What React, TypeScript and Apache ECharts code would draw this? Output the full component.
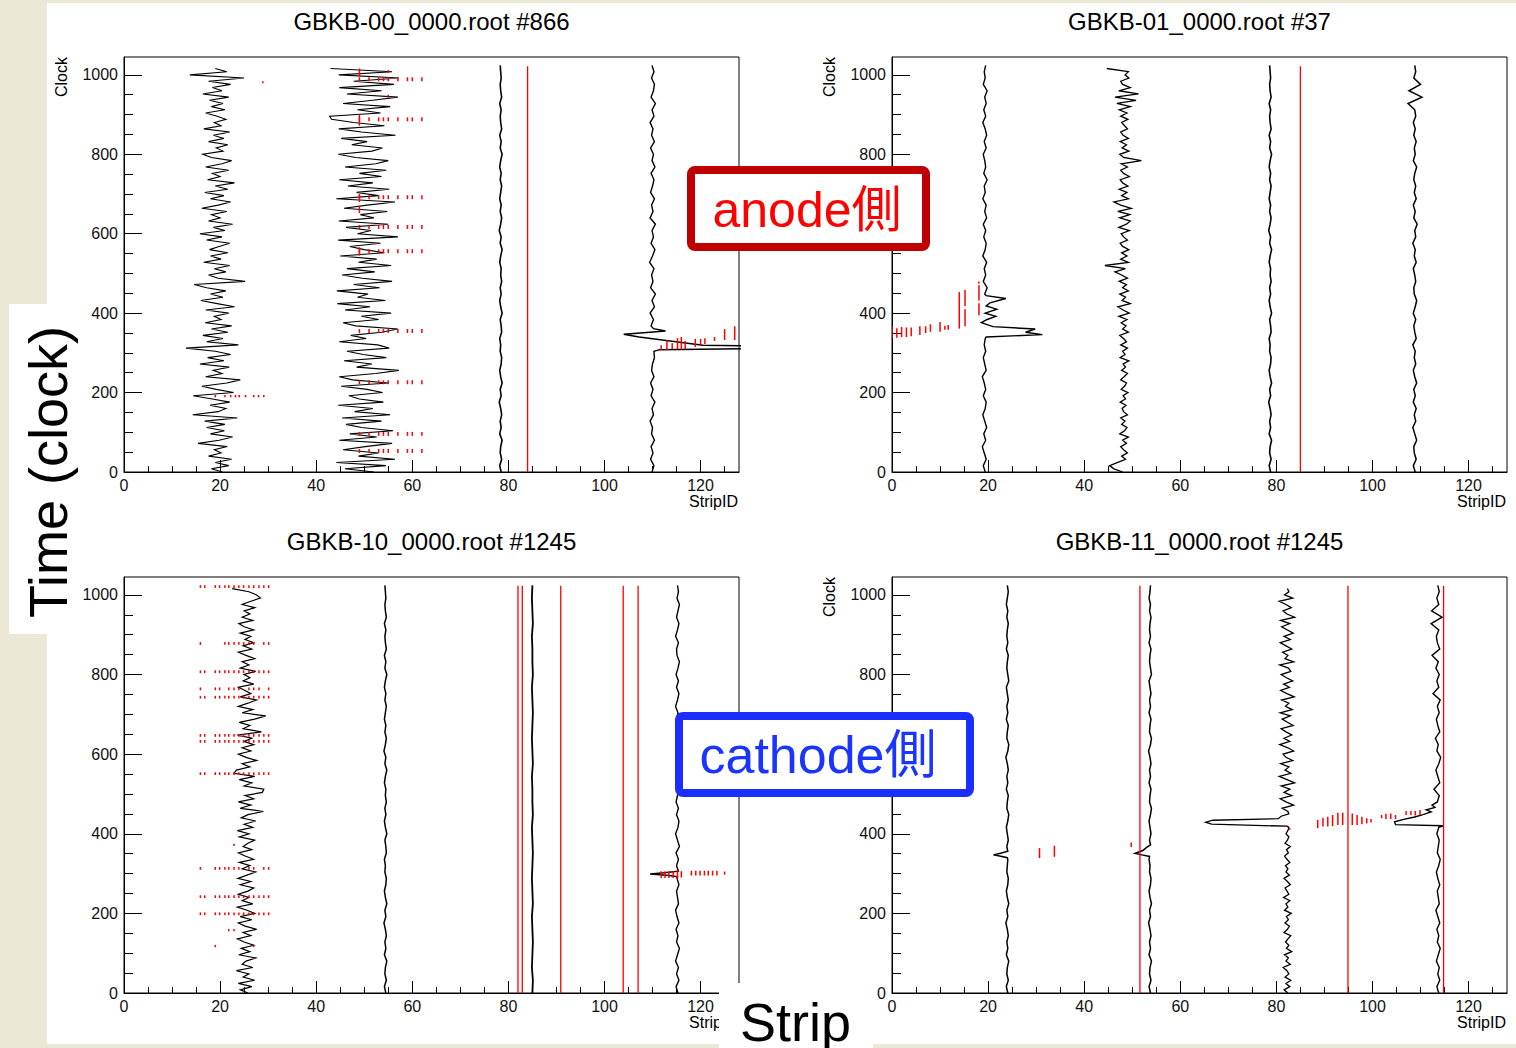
import { useEffect, useRef } from "react";
import * as echarts from "echarts";

// ---------- axes / labels ----------
const X_MAX = 128;
const Y_MAX = 1045;
const X_MAJOR = [0, 20, 40, 60, 80, 100, 120];
const X_MINOR = [5, 10, 15, 25, 30, 35, 45, 50, 55, 65, 70, 75, 85, 90, 95, 105, 110, 115, 125];
const Y_MAJOR = [0, 200, 400, 600, 800, 1000];
// the 600 label of the right-hand panels is hidden under the anode / cathode boxes
const Y_MAJOR_LABELS_RIGHT = [0, 200, 400, 800, 1000];
const Y_MINOR = [50, 100, 150, 250, 300, 350, 450, 500, 550, 650, 700, 750, 850, 900, 950];
const TITLES = [
  "GBKB-00_0000.root #866",
  "GBKB-01_0000.root #37",
  "GBKB-10_0000.root #1245",
  "GBKB-11_0000.root #1245",
];
const X_NAME = "StripID";
const Y_NAME = "Clock";
const BIG_Y = "Time (clock)";
const BIG_X = "Strip";
const ANODE = "anode側";
const CATHODE = "cathode側";

// ---------- GBKB-00 #866 (top left) ----------
const TL_A = [
  20.5, 18.2, 21.8, 19.0, 22.4, 17.6, 20.2, 18.8,
  21.5, 15.4, 19.8, 22.6, 18.0, 20.9, 17.2, 21.0,
  16.8, 23.6, 14.3, 19.6, 21.2, 17.9, 22.0, 18.4,
  14.4, 22.8, 19.2, 16.2, 21.4, 24.2, 17.0, 20.4,
  18.6, 21.9, 15.8, 20.8, 17.4, 22.2, 19.0, 12.9,
  23.8, 17.2, 20.6, 16.4, 21.6, 18.2, 22.4, 16.9,
  20.2, 18.8, 21.8, 17.0, 23.0, 19.4, 16.0, 20.6,
  18.0, 21.2, 17.2, 14.6, 25.2, 19.6, 17.6, 21.2,
  18.8, 22.0, 16.6, 20.2, 18.0, 21.6, 17.8, 19.8,
  22.0, 17.2, 20.4, 15.8, 21.0, 18.6, 22.6, 17.6,
  20.0, 18.2, 21.4, 16.2, 19.6, 22.2, 18.0, 20.8,
  16.8, 21.6, 19.0, 23.0, 17.4, 20.0, 18.4, 21.8,
  17.0, 20.4, 22.4, 18.2, 16.4, 20.6, 19.2, 21.6,
  17.6, 20.8, 18.6, 22.0, 16.6, 20.2, 18.8, 21.2,
  19.4, 17.0, 21.0, 18.2, 20.6, 17.8, 21.8, 16.4,
  20.4, 18.4, 22.2, 17.6, 25.0, 13.7, 21.4, 19.0,
];
const TL_B = [
  52.0, 46.0, 54.5, 44.2, 56.4, 48.8, 53.0, 45.6,
  50.2, 55.8, 44.8, 52.6, 47.0, 56.0, 49.4, 46.2,
  53.6, 45.4, 55.4, 48.0, 51.8, 44.6, 54.0, 49.0,
  46.8, 53.8, 50.6, 45.2, 55.0, 47.6, 44.8, 52.4,
  57.2, 48.4, 51.6, 45.8, 54.6, 49.8, 46.4, 55.2,
  52.8, 44.8, 50.4, 47.2, 53.6, 57.0, 48.2, 45.6,
  53.0, 49.4, 55.6, 46.0, 51.2, 44.4, 54.4, 48.6,
  50.8, 44.3, 53.2, 47.8, 55.8, 49.6, 45.4, 52.2,
  46.4, 55.6, 48.8, 52.6, 45.0, 54.2, 50.0, 47.0,
  53.4, 44.6, 57.0, 48.6, 51.4, 46.2, 55.0, 44.7,
  52.0, 49.2, 54.8, 45.8, 50.6, 56.4, 44.2, 53.0,
  48.4, 55.2, 46.6, 51.8, 44.8, 53.6, 49.0, 54.6,
  46.0, 52.4, 55.0, 48.2, 44.6, 51.6, 53.8, 47.4,
  50.6, 45.2, 56.5, 49.4, 44.7, 54.2, 47.8, 43.2,
  42.8, 53.4, 48.6, 55.4, 45.6, 51.8, 57.0, 46.4,
  53.6, 44.8, 56.2, 47.8, 57.2, 44.7, 55.8, 43.0,
];
const TL_C = [
  78.5, 78.2, 78.6, 78.3, 78.4, 78.7, 78.2, 78.5, 78.3, 78.6, 78.4, 78.1, 78.5, 78.3, 78.7, 78.4,
  78.2, 78.5, 78.6, 78.3, 78.4, 78.2, 78.6, 78.5, 78.3, 78.7, 78.4, 78.2, 78.5, 78.3, 78.6, 78.4,
  78.5, 78.2, 78.4, 78.7, 78.3, 78.5, 78.1, 78.4, 78.6, 78.3, 78.5, 78.2, 78.4, 78.6, 78.3, 78.5,
  78.2, 78.4, 78.7, 78.3, 78.5, 78.2, 78.6, 78.4, 78.3, 78.5, 78.2, 78.6, 78.4, 78.3, 78.5, 78.4, 78.3,
];
const TL_D_LOW = [
  109.9, 110.3, 109.6, 110.1, 109.7, 110.4, 109.8, 110.0, 109.5, 110.2,
  109.9, 110.5, 109.7, 110.1, 109.6, 110.3, 109.8, 110.0, 110.4, 110.3,
];
const TL_D_PULSE = [
  [111.5, 308], [140, 312], [140, 316], [120.5, 319], [107.2, 340],
  [104, 347], [107.5, 350], [112.7, 355], [110.2, 361],
];
const TL_D_HIGH = [
  109.7, 110.2, 109.5, 110.4, 109.9, 110.6, 109.6, 110.1, 109.8, 110.3,
  109.4, 110.0, 110.5, 109.7, 110.2, 109.9, 110.6, 109.5, 110.1, 109.8,
  110.4, 109.6, 110.0, 110.3, 109.7, 110.5, 109.9, 110.2, 109.6, 110.4,
  109.8, 110.1, 109.5, 110.3, 109.9, 110.6, 109.7, 110.2, 110.4, 109.8,
  110.3, 109.9,
];
const TL_HOT = [[84, 0, 1022]];
const TL_ROW_B_CLOCKS = [989, 888, 692, 617, 556, 355, 226, 96, 53];
const TL_ROW_B_STRIPS = [49, 51, 53, 54, 55, 57, 59, 60, 62];
const TL_ROW_A_CLOCKS = [191];
const TL_ROW_A_STRIPS = [19, 21, 22.2, 23.2, 24, 25.3, 27, 28, 29.1];
const TL_DASHES = [
  [49, 996, 1016], [55, 1005, 1012], [55, 943, 950], [49, 872, 900], [49, 652, 670],
  [49, 680, 700], [49, 545, 566], [28.9, 979, 984],
  [111.8, 307, 319], [113, 307, 332], [114.1, 309, 324], [115.2, 309, 337], [116, 309, 340],
  [116.8, 309, 330], [118.9, 315, 335], [120, 320, 335], [120.9, 322, 337], [122.9, 330, 340],
  [125, 332, 360], [127.1, 332, 367],
];

// ---------- GBKB-01 #37 (top right) ----------
const TR_1_LOW = [
  19.4, 19.0, 19.6, 19.2, 18.8, 19.5, 19.1, 19.7, 19.3, 18.9, 19.4,
  19.6, 19.0, 19.5, 19.2, 18.8, 19.6, 19.3, 19.0, 19.5, 19.2, 19.4,
];
const TR_1_PULSE = [
  [19.6, 340], [31.3, 346], [27.8, 352], [29.8, 360], [21.0, 366], [18.6, 376],
  [19.8, 384], [21.6, 392], [19.4, 400], [21.8, 410], [19.6, 418], [20.4, 426],
  [23.7, 437], [19.6, 444],
];
const TR_1_HIGH = [
  19.3, 19.8, 19.0, 19.5, 19.2, 19.7, 18.9, 19.4, 19.6, 19.1,
  19.5, 19.0, 19.7, 19.3, 19.6, 18.9, 19.4, 19.2, 19.8, 19.1,
  19.5, 19.3, 19.0, 19.6, 19.2, 19.7, 19.4, 18.9, 19.5, 19.1,
  19.6, 19.3, 19.8, 19.0, 19.4, 19.2, 19.5,
];
const TR_2 = [
  48.0, 46.2, 45.3, 47.0, 48.6, 47.8, 49.0, 48.2,
  47.6, 48.8, 48.0, 49.2, 47.4, 48.4, 48.9, 47.8,
  48.5, 47.6, 49.0, 48.2, 47.9, 48.7, 47.5, 48.6,
  48.1, 49.1, 47.7, 48.4, 48.8, 47.6, 48.3, 49.0,
  47.8, 48.6, 48.1, 49.3, 47.5, 48.5, 48.0, 49.0,
  47.6, 48.8, 48.2, 47.4, 49.2, 48.0, 48.7, 47.7,
  48.9, 47.2, 49.4, 48.1, 47.0, 49.6, 47.9, 48.6,
  47.4, 49.2, 48.0, 48.8, 47.3, 49.0, 47.8, 46.4,
  48.6, 44.3, 49.2, 47.6, 48.9, 47.8, 49.3, 48.0,
  47.5, 49.0, 48.2, 47.7, 49.4, 47.2, 48.8, 49.6,
  47.4, 49.5, 47.0, 49.8, 47.6, 46.2, 49.2, 47.8,
  48.9, 47.3, 49.1, 48.0, 47.5, 49.4, 48.2, 47.6,
  49.0, 47.7, 51.9, 48.2, 47.4, 49.3, 47.9, 48.8,
  47.5, 49.2, 48.1, 47.6, 49.0, 48.4, 47.8, 49.1,
  47.6, 48.9, 47.3, 49.6, 46.8, 50.8, 46.4, 51.3,
  47.2, 49.6, 48.0, 47.6, 49.3, 48.5, 49.2, 44.7,
];
const TR_3 = [
  78.8, 78.5, 78.9, 78.6, 78.7, 79.0, 78.5, 78.8, 78.6, 78.9, 78.7, 78.4, 78.8, 78.6, 79.0, 78.7,
  78.5, 78.8, 78.9, 78.6, 78.7, 78.5, 78.9, 78.8, 78.6, 79.0, 78.7, 78.5, 78.8, 78.6, 78.9, 78.7,
  78.8, 78.5, 78.7, 79.0, 78.6, 78.8, 78.4, 78.7, 78.9, 78.6, 78.8, 78.5, 78.7, 78.9, 78.6, 78.8,
  78.5, 78.7, 79.0, 78.6, 78.8, 78.5, 78.9, 78.7, 78.6, 78.8, 78.5, 78.9, 78.7, 78.6, 78.8, 78.7, 78.6,
];
const TR_4 = [
  108.9, 108.5, 109.1, 108.7, 108.6, 109.2, 108.8, 108.4, 109.0, 108.7, 109.1, 108.5, 108.9,
  108.6, 109.2, 108.8, 108.5, 109.0, 108.7, 108.9, 108.4, 109.1, 108.8, 108.6, 109.0, 108.5,
  108.9, 109.2, 108.7, 108.6, 109.0, 108.8, 108.5, 109.1, 108.7, 108.9, 108.4, 109.0, 108.8,
  109.3, 108.6, 108.9, 108.5, 109.1, 108.7, 109.0, 108.6, 108.8, 109.2, 108.5, 108.9, 108.7,
  109.1, 108.6, 108.9, 108.5, 109.0, 108.8, 107.4, 110.3, 107.6, 110.0, 108.6, 109.0, 108.8,
];
const TR_HOT = [[85, 0, 1022]];
const TR_DASHES = [
  [0, 337, 367], [1, 338, 362], [2, 340, 365], [3, 340, 364], [4, 342, 364], [5.8, 345, 367],
  [7, 350, 367], [8, 353, 372], [10, 353, 378], [11, 358, 368], [11.7, 358, 370],
  [14, 361, 453], [15.2, 367, 410], [15.2, 418, 458], [18.1, 395, 425], [18.1, 432, 470],
  [18.1, 474, 480],
];

// ---------- GBKB-10 #1245 (bottom left) ----------
const BL_1 = [
  25.8, 24.2, 26.6, 23.8, 27.2, 24.8, 26.0, 23.4,
  26.8, 24.6, 25.4, 27.4, 23.9, 26.2, 24.4, 27.0,
  25.0, 23.6, 26.4, 24.8, 27.6, 25.2, 23.8, 26.6,
  24.2, 27.2, 25.6, 23.6, 26.8, 24.6, 26.0, 23.8,
  25.8, 27.0, 24.2, 26.4, 23.7, 25.6, 27.4, 24.6,
  26.2, 24.0, 27.0, 25.2, 23.8, 26.6, 24.8, 25.8,
  27.2, 24.0, 26.0, 23.6, 26.8, 25.0, 27.4, 24.4,
  25.8, 29.0, 24.2, 26.4, 23.8, 27.0, 25.2, 28.8,
  29.1, 25.0, 26.6, 24.0, 27.2, 22.9, 23.4, 26.2,
  24.6, 27.6, 25.4, 23.8, 26.4, 24.6, 27.0, 25.0,
  26.6, 23.6, 28.6, 24.8, 26.2, 24.0, 27.2, 29.5,
  24.6, 26.8, 23.8, 25.8, 27.6, 24.2, 26.4, 25.2,
  23.8, 27.0, 24.8, 26.2, 25.0, 27.4, 24.2, 26.0,
  24.6, 27.2, 25.4, 23.8, 26.6, 24.8, 27.0, 25.2,
  26.4, 24.2, 27.0, 25.0, 23.9, 26.8, 24.6, 26.2,
  25.0, 27.2, 24.6, 26.4, 28.4, 27.6, 26.0, 22.5,
];
const BL_2 = [
  54.5, 54.2, 54.6, 54.3, 54.4, 54.7, 54.2, 54.5, 54.3, 54.6, 54.4, 54.1, 54.5, 54.3, 54.7, 54.4,
  54.2, 54.5, 54.6, 54.3, 54.4, 54.2, 54.6, 54.5, 54.3, 54.7, 54.4, 54.2, 54.5, 54.3, 54.6, 54.4,
  54.5, 54.2, 54.4, 54.7, 54.3, 54.5, 54.1, 54.4, 54.6, 54.3, 54.5, 54.2, 54.4, 54.6, 54.3, 54.5,
  54.2, 54.4, 54.7, 54.3, 54.5, 54.2, 54.6, 54.4, 54.3, 54.5, 54.2, 54.6, 54.4, 54.3, 54.5, 54.4, 54.3,
];
const BL_3 = [
  85.0, 85.1, 84.9, 85.0, 85.1, 85.0, 84.9, 85.1, 85.0, 84.9, 85.0, 85.1, 85.0, 84.9, 85.1, 85.0,
  85.0, 84.9, 85.1, 85.0, 84.9, 85.0, 85.1, 85.0, 84.9, 85.1, 85.0, 85.0, 84.9, 85.1, 85.0, 84.9, 85.0,
];
const BL_4_LOW = [
  115.3, 114.9, 115.5, 115.0, 115.4, 114.8, 115.2, 115.6, 115.0, 115.3,
  114.9, 115.5, 115.1, 114.8, 115.4, 115.2, 115.0, 115.5, 115.1,
];
const BL_4_PULSE = [[115.2, 292], [113.5, 295], [109.5, 299], [112.5, 302], [115.4, 306]];
const BL_4_HIGH = [
  115.0, 115.4, 114.9, 115.6, 115.2, 114.8, 115.3, 115.5, 115.0, 115.4,
  114.9, 115.2, 115.6, 115.1, 114.8, 115.3, 115.0, 115.5, 115.2, 114.9,
  115.4, 115.1, 115.6, 115.0, 115.3, 114.8, 115.2, 115.5, 115.0, 115.4,
  114.9, 115.3, 115.6, 115.1, 115.0, 115.4, 114.8, 115.2, 115.5, 115.0,
  115.3, 115.6, 115.1, 115.4, 115.2,
];
const BL_HOT = [[82, 0, 1023], [82.9, 0, 1023], [90.9, 0, 1023], [103.9, 0, 1023], [107, 0, 1023]];
const BL_ROW_FULL_STRIPS = [15.9, 16.8, 19, 19.9, 21, 21.8, 22.9, 23.9, 24.9, 26, 27, 28.1, 29.1, 30.1];
const BL_ROW_FULL_CLOCKS = [1021, 807, 743, 647, 632, 551, 242, 199];
const BL_ROW_878 = [15.9, 21, 21.8, 22.9, 23.9, 24.9, 26, 27, 29.1, 30.1];
const BL_ROW_764 = [15.9, 19, 19.9, 21.8, 22.9, 23.9, 26, 27, 28.1, 30.1];
const BL_ROW_313 = [15.9, 19, 19.9, 21, 21.8, 22.9, 23.9, 26, 27, 29.1, 30.1];
const BL_DASHES = [
  [22.9, 369, 375], [21.8, 155, 161], [22.9, 155, 161], [19, 115, 121], [27, 115, 121],
  [111.8, 289, 306], [112.6, 289, 306], [113.4, 289, 306], [114.3, 289, 306], [115.2, 286, 310],
  [116, 290, 306], [118.1, 295, 307], [119, 295, 307], [119.9, 295, 307], [120.8, 295, 307],
  [121.6, 295, 307], [122.5, 295, 307], [123.4, 295, 307], [125, 297, 305],
];

// ---------- GBKB-11 #1245 (bottom right) ----------
const BR_1_LOW = [
  24.1, 23.8, 24.2, 23.9, 24.0, 24.3, 23.8, 24.1, 23.9, 24.2, 24.0,
  23.7, 24.1, 23.9, 24.3, 24.0, 23.8, 24.1, 24.2, 23.9, 24.0, 24.1,
];
const BR_1_PULSE = [[24.0, 340], [22.4, 344], [21.1, 347], [22.6, 351], [24.1, 356]];
const BR_1_HIGH = [
  23.9, 24.2, 24.0, 23.8, 24.1, 24.3, 23.9, 24.0, 24.2, 23.8, 24.1, 23.9, 24.2, 24.0,
  23.7, 24.1, 24.3, 23.9, 24.0, 24.2, 23.8, 24.1, 23.9, 24.2, 24.0, 23.8, 24.3, 24.1,
  23.9, 24.0, 24.2, 23.8, 24.1, 23.9, 24.0, 24.2, 23.9, 24.1, 23.8, 24.0, 24.2, 24.0,
];
const BR_2_LOW = [
  53.8, 53.5, 53.9, 53.6, 53.7, 54.0, 53.5, 53.8, 53.6, 53.9, 53.7,
  53.4, 53.8, 53.6, 54.0, 53.7, 53.5, 53.8, 53.9, 53.6, 53.7, 53.5,
];
const BR_2_PULSE = [[53.6, 343], [52.0, 347], [50.6, 351], [52.2, 358], [53.0, 366], [53.8, 372]];
const BR_2_HIGH = [
  53.6, 53.9, 53.7, 53.5, 53.8, 54.0, 53.6, 53.7, 53.9, 53.5, 53.8, 53.6, 53.9, 53.7,
  53.4, 53.8, 54.0, 53.6, 53.7, 53.9, 53.5, 53.8, 53.6, 53.9, 53.7, 53.5, 54.0, 53.8,
  53.6, 53.7, 53.9, 53.5, 53.8, 53.6, 53.7, 53.9, 53.6, 53.8, 53.5, 53.7, 53.8,
];
const BR_3_LOW = [
  82.4, 81.6, 82.8, 82.0, 83.0, 81.8, 82.6, 82.2, 81.4, 82.9, 82.0, 82.5, 81.7, 83.2, 82.1, 82.6,
  81.9, 82.4, 83.0, 81.6, 82.3, 82.7, 81.8, 82.5, 82.1, 83.1, 81.7, 82.4, 82.0, 82.8, 81.5, 82.6,
  82.2, 81.8, 82.9, 82.3, 81.6, 82.7, 82.0, 82.4, 81.9, 82.8, 82.2, 81.7, 82.5, 82.1, 82.9, 81.8,
  82.3, 82.6, 82.0, 82.4, 82.6,
];
const BR_3_PULSE = [
  [82.2, 419], [66.5, 424], [65.3, 429], [66.8, 434], [80.4, 438], [81.0, 444], [82.6, 450],
];
const BR_3_HIGH = [
  82.4, 81.2, 83.6, 82.0, 80.8, 83.2, 81.6, 82.8, 81.0, 83.8, 82.2, 80.6, 83.0, 81.8, 82.6, 80.9,
  83.4, 82.0, 81.4, 83.6, 82.4, 80.7, 82.8, 81.6, 83.2, 82.0, 81.0, 83.5, 82.3, 81.2, 82.9, 80.8,
  83.3, 81.9, 82.6, 81.1, 83.7, 82.2, 80.9, 82.7, 81.5, 83.4, 82.1, 81.0, 83.0, 82.5, 80.7, 83.6,
  81.8, 82.4, 81.3, 83.2, 82.0, 80.8, 82.9, 81.6, 83.5, 82.3, 81.1, 82.8, 80.9, 83.8, 82.2, 81.4,
  83.1, 82.0, 80.6, 83.4, 81.7, 82.6, 82.3,
];
const BR_4_LOW = [
  113.8, 113.4, 114.0, 113.6, 113.9, 113.3, 113.7, 114.1, 113.5, 113.8, 113.4, 114.0, 113.6, 113.2,
  113.9, 113.7, 113.5, 114.0, 113.6, 113.3, 113.8, 114.1, 113.5, 113.7, 113.9, 113.4, 113.8,
];
const BR_4_PULSE = [
  [114.8, 420], [104.8, 423], [104.6, 430], [106.5, 436], [108.8, 442], [110.5, 448],
  [112.2, 455], [111.2, 460], [113.0, 466], [112.4, 472],
];
const BR_4_HIGH = [
  113.5, 113.9, 112.8, 114.0, 113.6, 113.2, 113.8, 114.2, 113.4, 113.7, 113.1, 114.0,
  113.6, 113.3, 113.9, 113.5, 114.1, 112.6, 113.8, 113.4, 113.9, 113.2, 113.7, 112.4,
  114.0, 113.5, 113.3, 113.8, 112.2, 114.5, 112.3, 113.8, 113.4, 113.9, 113.6,
];
const BR_HOT = [[51.6, 0, 1023], [94.9, 0, 1023], [114.8, 0, 1023]];
const BR_DASHES = [
  [30.7, 339, 364], [33.8, 342, 370], [49.8, 367, 378], [82.8, 410, 414],
  [88.6, 414, 435], [89.7, 418, 440], [90.7, 418, 443], [91.7, 419, 447], [92.8, 422, 453],
  [93.8, 422, 453], [95.8, 422, 451], [96.8, 422, 447], [97.8, 424, 443], [98.8, 426, 439],
  [99.7, 428, 437], [101.9, 439, 447], [102.8, 437, 450], [103.8, 437, 451], [104.8, 437, 447],
  [107, 447, 457], [108, 447, 457], [108.9, 446, 457], [109.9, 447, 460],
];

// ---------- helpers ----------
const sampled = (start: number, step: number, strips: number[]) =>
  strips.map((s, i) => [s, start + i * step]);
const rows = (clocks: number[], strips: number[], half: number) =>
  clocks.flatMap((c) => strips.map((s) => [s, c - half, c + half]));

const FONT = '"Liberation Sans", Arial, Helvetica, sans-serif';
const CJK = '"Liberation Sans", "Noto Sans CJK JP", sans-serif';

function buildOption() {
  const panels = [
    {
      left: 124, top: 57, width: 615, height: 415, yLabels: Y_MAJOR, clock: true,
      traces: [
        { data: sampled(0, 8, TL_A), w: 1.1 },
        { data: sampled(0, 8, TL_B), w: 1.1 },
        { data: sampled(0, 16, TL_C), w: 1.6 },
        { data: [...sampled(0, 16, TL_D_LOW), ...TL_D_PULSE, ...sampled(368, 16, TL_D_HIGH)], w: 1.4 },
      ],
      hot: TL_HOT,
      dashes: [
        ...rows(TL_ROW_B_CLOCKS, TL_ROW_B_STRIPS, 5),
        ...rows(TL_ROW_A_CLOCKS, TL_ROW_A_STRIPS, 3),
        ...TL_DASHES,
      ],
    },
    {
      left: 892, top: 57, width: 615, height: 415, yLabels: Y_MAJOR_LABELS_RIGHT, clock: true,
      traces: [
        { data: [...sampled(0, 16, TR_1_LOW), ...TR_1_PULSE, ...sampled(448, 16, TR_1_HIGH)], w: 1.4 },
        { data: sampled(0, 8, TR_2), w: 1.3 },
        { data: sampled(0, 16, TR_3), w: 1.6 },
        { data: sampled(0, 16, TR_4), w: 1.5 },
      ],
      hot: TR_HOT,
      dashes: TR_DASHES,
    },
    {
      left: 124, top: 577, width: 615, height: 416, yLabels: Y_MAJOR, clock: false,
      traces: [
        { data: sampled(0, 8, BL_1), w: 1.2 },
        { data: sampled(0, 16, BL_2), w: 1.5 },
        { data: sampled(0, 32, BL_3), w: 1.8 },
        { data: [...sampled(0, 16, BL_4_LOW), ...BL_4_PULSE, ...sampled(320, 16, BL_4_HIGH)], w: 1.4 },
      ],
      hot: BL_HOT,
      dashes: [
        ...rows(BL_ROW_FULL_CLOCKS, BL_ROW_FULL_STRIPS, 3.5),
        ...rows([878], BL_ROW_878, 3.5),
        ...rows([764], BL_ROW_764, 3.5),
        ...rows([313], BL_ROW_313, 3.5),
        ...BL_DASHES,
      ],
    },
    {
      left: 892, top: 577, width: 615, height: 416, yLabels: Y_MAJOR_LABELS_RIGHT, clock: true,
      traces: [
        { data: [...sampled(0, 16, BR_1_LOW), ...BR_1_PULSE, ...sampled(368, 16, BR_1_HIGH)], w: 1.5 },
        { data: [...sampled(0, 16, BR_2_LOW), ...BR_2_PULSE, ...sampled(384, 16, BR_2_HIGH)], w: 1.5 },
        { data: [...sampled(0, 8, BR_3_LOW), ...BR_3_PULSE, ...sampled(456, 8, BR_3_HIGH)], w: 1.3 },
        { data: [...sampled(0, 16, BR_4_LOW), ...BR_4_PULSE, ...sampled(480, 16, BR_4_HIGH)], w: 1.4 },
      ],
      hot: BR_HOT,
      dashes: BR_DASHES,
    },
  ];

  const grid: any[] = [];
  const xAxis: any[] = [];
  const yAxis: any[] = [];
  const series: any[] = [];
  const graphic: any[] = [];

  const tickStyle = { color: "#000", width: 1 };
  const labelStyle = {
    color: "#111", fontSize: 16, fontFamily: FONT,
    formatter: (v: number) => String(v),
  };

  const segRender = (width: number) => (params: any, api: any) => {
    const a = api.coord([api.value(0), api.value(1)]);
    const b = api.coord([api.value(0), api.value(2)]);
    return {
      type: "line",
      shape: { x1: a[0], y1: a[1], x2: b[0], y2: b[1] },
      style: { stroke: "#ff0000", lineWidth: width },
    };
  };

  panels.forEach((p, g) => {
    grid.push({
      left: p.left, top: p.top, width: p.width, height: p.height,
      show: true, borderColor: "#000", borderWidth: 1, backgroundColor: "rgba(0,0,0,0)",
    });
    xAxis.push({
      gridIndex: g, type: "value", min: 0, max: X_MAX, interval: 20, position: "bottom",
      axisLine: { show: true, lineStyle: tickStyle },
      axisTick: { show: true, inside: true, length: 12, customValues: X_MAJOR, lineStyle: tickStyle },
      axisLabel: { ...labelStyle, margin: 5, customValues: X_MAJOR },
      splitLine: { show: false },
    });
    xAxis.push({
      gridIndex: g, type: "value", min: 0, max: X_MAX, interval: 20, position: "bottom",
      axisLine: { show: false },
      axisTick: { show: true, inside: true, length: 6, customValues: X_MINOR, lineStyle: tickStyle },
      axisLabel: { show: false },
      splitLine: { show: false },
    });
    yAxis.push({
      gridIndex: g, type: "value", min: 0, max: Y_MAX, interval: 200, position: "left",
      axisLine: { show: true, lineStyle: tickStyle },
      axisTick: { show: true, inside: true, length: 18, customValues: Y_MAJOR, lineStyle: tickStyle },
      axisLabel: { ...labelStyle, margin: 6, customValues: p.yLabels },
      splitLine: { show: false },
    });
    yAxis.push({
      gridIndex: g, type: "value", min: 0, max: Y_MAX, interval: 200, position: "left",
      axisLine: { show: false },
      axisTick: { show: true, inside: true, length: 9, customValues: Y_MINOR, lineStyle: tickStyle },
      axisLabel: { show: false },
      splitLine: { show: false },
    });

    p.traces.forEach((t) => {
      series.push({
        type: "line", xAxisIndex: 2 * g, yAxisIndex: 2 * g, data: t.data,
        showSymbol: false, symbol: "none", clip: true, silent: true, z: 3,
        lineStyle: { color: "#000", width: t.w, join: "miter" },
      });
    });
    series.push({
      type: "custom", xAxisIndex: 2 * g, yAxisIndex: 2 * g, data: p.hot,
      encode: { x: 0, y: [1, 2] }, renderItem: segRender(1.3), clip: true, silent: true, z: 4,
    });
    series.push({
      type: "custom", xAxisIndex: 2 * g, yAxisIndex: 2 * g, data: p.dashes,
      encode: { x: 0, y: [1, 2] }, renderItem: segRender(1.5), clip: true, silent: true, z: 4,
    });

    const cx = p.left + p.width / 2;
    graphic.push(txt(cx, p.top - 36, TITLES[g], 24, {}));
    if (p.clock) graphic.push(txt(p.left - 63, p.top + 20, Y_NAME, 16, { rotation: Math.PI / 2 }));
    graphic.push(txt(p.left + p.width - 1, p.top + p.height + 29, X_NAME, 16, { align: "right" }));
  });

  // page backgrounds and overlays
  graphic.unshift({
    type: "rect", z: -10, silent: true,
    shape: { x: 47, y: 3, width: 1469, height: 1041 },
    style: { fill: "#ffffff" },
  });
  graphic.push({
    type: "rect", z: 20, silent: true,
    shape: { x: 9, y: 304, width: 70, height: 330 },
    style: { fill: "#ffffff" },
  });
  graphic.push(txt(48, 472, BIG_Y, 54, { rotation: Math.PI / 2, z: 21 }));
  graphic.push({
    type: "rect", z: 20, silent: true,
    shape: { x: 719, y: 983, width: 154, height: 65 },
    style: { fill: "#ffffff" },
  });
  graphic.push(txt(740, 1022, BIG_X, 54, { align: "left", z: 21 }));
  graphic.push({
    type: "rect", z: 20, silent: true,
    shape: { x: 691, y: 170, width: 235, height: 77, r: 4 },
    style: { fill: "#ffffff", stroke: "#c00000", lineWidth: 8 },
  });
  graphic.push(txt(807, 210, ANODE, 50, { fill: "#ff0000", family: CJK, z: 21 }));
  graphic.push({
    type: "rect", z: 20, silent: true,
    shape: { x: 679, y: 716, width: 291, height: 77, r: 4 },
    style: { fill: "#ffffff", stroke: "#1a2eff", lineWidth: 8 },
  });
  graphic.push(txt(818, 755, CATHODE, 52, { fill: "#1a35ff", family: CJK, z: 21 }));

  return {
    animation: false,
    backgroundColor: "#ebe8d6",
    grid, xAxis, yAxis, series, graphic,
  };
}

function txt(x: number, y: number, text: string, size: number, o: any) {
  const align = o.align || "center";
  return {
    type: "text", x, y, z: o.z ?? 10, silent: true, rotation: o.rotation || 0,
    style: {
      text, fill: o.fill || "#000", fontSize: size, fontFamily: o.family || FONT,
      align, verticalAlign: "middle", textAlign: align, textVerticalAlign: "middle",
    },
  };
}

export default function App() {
  const ref = useRef<HTMLDivElement>(null);
  useEffect(() => {
    const chart = echarts.init(ref.current as HTMLDivElement, null, { renderer: "svg" });
    chart.setOption(buildOption() as any);
    return () => chart.dispose();
  }, []);
  return (
    <div
      ref={ref}
      style={{ position: "fixed", left: 0, top: 0, width: 1516, height: 1048 }}
    />
  );
}
